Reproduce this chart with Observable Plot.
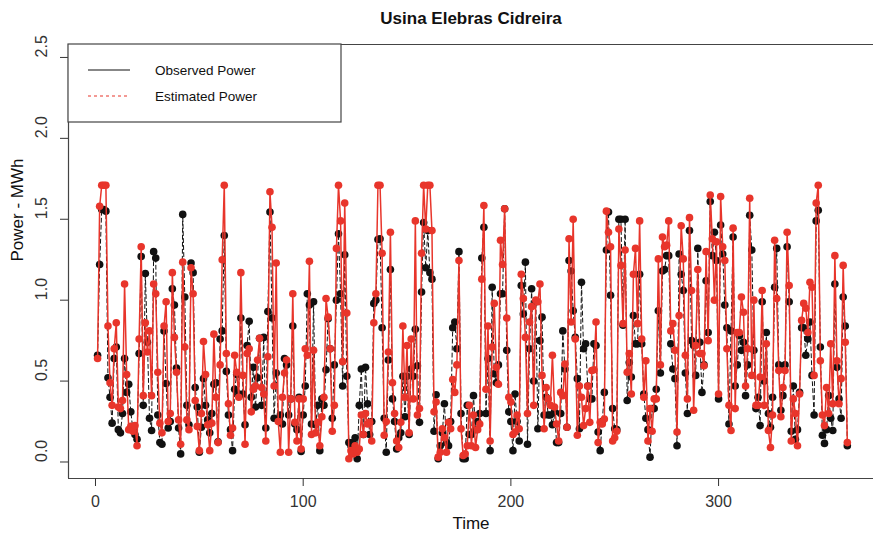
<!DOCTYPE html>
<html>
<head>
<meta charset="utf-8">
<script src="https://cdn.jsdelivr.net/npm/d3@7"></script>
<script src="https://cdn.jsdelivr.net/npm/@observablehq/plot@0.6"></script>
<style>
  html, body { margin: 0; padding: 0; background: #fff; overflow: hidden; }
</style>
</head>
<body>
<div id="chart"></div>
<script>
// Daily energy (MWh), one value per day, ten days per row
const observed = [
  0.66, 1.22, 1.56, 1.56, 1.55, 0.52, 0.40, 0.24, 0.64, 0.71,
  0.20, 0.18, 0.30, 0.64, 0.43, 0.48, 0.31, 0.20, 0.17, 0.14,
  0.67, 1.27, 0.35, 1.165, 0.74, 0.27, 0.195, 1.30, 1.26, 0.29,
  0.12, 0.11, 0.81, 0.485, 0.21, 0.25, 1.07, 0.97, 0.58, 0.21,
  0.05, 1.53, 1.02, 0.35, 0.23, 1.23, 1.17, 0.46, 0.34, 0.06,
  0.215, 0.515, 0.35, 0.26, 0.18, 0.30, 0.48, 0.49, 0.125, 0.76,
  0.81, 1.40, 0.56, 0.29, 0.20, 0.07, 0.45, 0.54, 0.42, 0.89,
  0.42, 0.23, 0.72, 0.87, 0.40, 0.585, 0.34, 0.52, 0.765, 0.35,
  0.77, 0.21, 0.93, 1.545, 0.89, 0.27, 0.55, 0.26, 0.29, 0.235,
  0.64, 0.60, 0.29, 0.39, 0.84, 0.235, 0.20, 0.40, 0.065, 0.29,
  0.47, 1.04, 0.97, 0.235, 0.99, 0.23, 0.35, 0.07, 0.39, 0.35,
  0.57, 0.885, 0.70, 0.27, 0.60, 1.00, 1.41, 1.04, 0.47, 1.28,
  0.53, 0.12, 0.10, 0.12, 0.15, 0.02, 0.35, 0.575, 0.17, 0.585,
  0.36, 0.17, 0.25, 0.98, 1.00, 1.375, 1.38, 0.83, 0.27, 0.06,
  0.63, 1.19, 0.39, 0.25, 0.08, 0.15, 0.18, 0.53, 0.28, 0.53,
  0.17, 0.575, 0.53, 0.82, 0.595, 0.245, 1.05, 1.48, 1.20, 1.43,
  1.17, 1.13, 0.19, 0.415, 0.02, 0.10, 0.18, 0.36, 0.12, 0.10,
  0.25, 0.83, 0.865, 0.70, 1.30, 0.30, 0.02, 0.02, 0.35, 0.17,
  0.17, 0.41, 0.20, 0.25, 0.30, 1.26, 1.45, 0.30, 0.64, 0.07,
  1.08, 0.545, 0.49, 0.60, 1.04, 1.04, 1.565, 0.69, 0.31, 0.25,
  0.07, 0.42, 0.25, 0.13, 1.09, 0.915, 1.235, 0.11, 0.70, 1.07,
  0.50, 0.99, 0.205, 0.75, 0.895, 0.29, 0.40, 0.29, 0.29, 0.23,
  0.31, 0.12, 0.12, 0.30, 0.81, 0.575, 0.215, 1.245, 1.18, 0.935,
  0.77, 0.515, 0.205, 1.11, 0.70, 0.73, 0.47, 0.39, 0.39, 0.73,
  0.72, 0.185, 0.07, 0.25, 0.43, 1.31, 1.545, 1.03, 0.33, 0.205,
  0.20, 1.50, 1.50, 0.845, 1.50, 0.38, 0.615, 0.525, 0.905, 0.73,
  0.73, 1.16, 0.73, 0.42, 0.27, 0.20, 0.03, 0.33, 0.33, 0.45,
  0.935, 0.55, 1.18, 1.19, 1.275, 1.275, 0.73, 0.575, 0.515, 0.10,
  1.285, 1.16, 1.06, 0.55, 0.30, 1.43, 0.75, 0.72, 0.535, 1.32,
  0.74, 0.43, 0.60, 1.12, 0.80, 1.61, 1.275, 1.42, 1.245, 0.39,
  1.465, 1.285, 0.97, 0.83, 0.235, 0.81, 1.39, 0.47, 0.60, 0.78,
  0.69, 0.74, 0.41, 0.60, 1.525, 1.31, 0.69, 0.33, 0.40, 0.225,
  0.99, 0.50, 0.80, 0.30, 0.215, 0.40, 1.08, 1.32, 0.60, 0.32,
  0.41, 0.60, 1.33, 0.99, 0.19, 0.47, 0.14, 0.20, 0.43, 0.83,
  0.83, 0.66, 0.76, 0.865, 0.535, 0.29, 1.49, 1.555, 0.71, 0.165,
  0.115, 0.20, 0.41, 0.27, 0.195, 1.10, 0.585, 0.39, 0.27, 1.02,
  0.84, 0.10
];

const estimated = [
  0.64, 1.58, 1.71, 1.71, 1.71, 0.84, 0.49, 0.35, 0.70, 0.86,
  0.34, 0.33, 0.38, 1.10, 0.54, 0.20, 0.22, 0.19, 0.225, 0.10,
  0.76, 1.33, 0.41, 0.86, 0.68, 0.81, 0.41, 1.10, 1.04, 0.555,
  0.24, 0.18, 0.84, 0.99, 0.25, 0.30, 1.17, 0.77, 0.555, 0.26,
  0.11, 1.235, 0.71, 0.26, 0.20, 1.20, 1.04, 0.38, 0.22, 0.07,
  0.30, 0.745, 0.54, 0.23, 0.07, 0.24, 0.79, 0.40, 0.12, 0.60,
  1.25, 1.71, 0.67, 0.36, 0.165, 0.21, 0.66, 0.555, 0.40, 1.17,
  0.535, 0.11, 0.67, 0.70, 0.31, 0.45, 0.47, 0.63, 0.765, 0.46,
  0.42, 0.13, 0.65, 1.67, 1.45, 0.47, 1.23, 0.25, 0.06, 0.40,
  0.55, 0.63, 0.06, 0.39, 1.04, 0.245, 0.13, 0.39, 0.08, 0.39,
  0.70, 0.66, 1.24, 0.17, 0.69, 0.18, 0.245, 0.10, 0.28, 0.40,
  1.01, 0.895, 0.70, 0.19, 0.35, 1.32, 1.71, 1.49, 0.62, 1.60,
  0.92, 0.02, 0.07, 0.05, 0.10, 0.06, 0.08, 0.29, 0.17, 0.30,
  0.235, 0.245, 0.13, 0.86, 1.04, 1.71, 1.71, 1.29, 0.165, 0.25,
  0.68, 1.42, 0.49, 0.30, 0.13, 0.09, 0.245, 0.84, 0.40, 0.72,
  0.18, 0.76, 0.39, 1.49, 0.29, 0.33, 1.29, 1.71, 1.44, 1.71,
  1.71, 1.43, 0.31, 0.37, 0.03, 0.06, 0.205, 0.15, 0.06, 0.245,
  0.205, 0.51, 0.43, 0.60, 1.245, 0.205, 0.04, 0.05, 0.10, 0.35,
  0.10, 0.29, 0.09, 0.20, 0.235, 1.13, 1.585, 0.45, 0.84, 0.13,
  0.71, 0.98, 0.585, 0.48, 1.37, 1.22, 1.565, 0.89, 0.40, 0.37,
  0.17, 0.185, 0.29, 0.205, 1.16, 1.01, 0.77, 0.30, 0.865, 0.96,
  0.35, 1.00, 0.99, 1.10, 0.535, 0.205, 0.46, 0.39, 0.35, 0.66,
  0.34, 0.235, 0.13, 0.43, 0.41, 0.605, 0.215, 1.38, 0.865, 1.50,
  0.76, 0.165, 0.47, 0.40, 0.225, 0.33, 0.47, 0.245, 0.565, 0.57,
  0.865, 0.12, 0.245, 0.235, 0.265, 1.55, 1.42, 1.33, 0.13, 0.15,
  0.19, 1.44, 1.215, 0.855, 1.31, 0.555, 0.67, 0.42, 1.16, 1.32,
  0.855, 1.49, 0.76, 0.40, 0.625, 0.13, 0.33, 0.19, 0.39, 0.39,
  1.255, 0.60, 1.39, 1.33, 1.34, 1.49, 0.81, 0.855, 0.69, 0.185,
  0.905, 1.46, 1.255, 0.66, 0.39, 1.51, 1.06, 0.32, 0.72, 1.19,
  0.67, 0.67, 0.595, 1.30, 0.75, 1.65, 1.38, 1.00, 1.36, 0.42,
  1.64, 1.33, 1.245, 0.70, 0.35, 0.195, 1.445, 0.33, 0.80, 0.80,
  1.02, 0.925, 0.47, 0.70, 1.63, 0.535, 1.00, 0.35, 0.35, 0.525,
  1.06, 0.35, 0.73, 0.195, 0.09, 0.29, 1.37, 1.01, 0.565, 0.28,
  0.46, 0.565, 1.42, 1.09, 0.13, 0.39, 0.30, 0.10, 0.42, 0.875,
  0.98, 0.95, 0.80, 1.11, 1.08, 0.535, 1.60, 1.71, 0.625, 0.29,
  0.225, 0.46, 0.30, 0.73, 0.36, 1.275, 0.625, 0.36, 0.515, 1.215,
  0.74, 0.12
];

const xTicks = [0, 100, 200, 300];
const yTicks = [0, 0.5, 1, 1.5, 2, 2.5];
const titleText = "Usina Elebras Cidreira";
const xLabel = "Time";
const yLabel = "Power - MWh";
const legendLabels = ["Observed Power", "Estimated Power"];

// Rows for the marks: day number (1-based) and value
const obsRows = observed.map((v, i) => ({day: i + 1, value: v}));
const estRows = estimated.map((v, i) => ({day: i + 1, value: v}));

const W = 873, H = 536;
const mL = 68, mT = 44, mB = 58, mR = 0;
const xDomain = [-13, 374.6];
const yDomain = [-0.102, 2.58];
const FONT = "'Liberation Sans', Arial, Helvetica, sans-serif";
const RED = "#e8352b";
const BLACK = "#111";
const AXIS = "#444";

const chart = Plot.plot({
  width: W,
  height: H,
  marginLeft: mL,
  marginTop: mT,
  marginBottom: mB,
  marginRight: mR,
  style: {fontFamily: FONT, background: "#fff", color: "#222"},
  x: {domain: xDomain, axis: null},
  y: {domain: yDomain, axis: null},
  marks: [
    // plot box (right side lies past the page edge)
    Plot.ruleY([yDomain[0], yDomain[1]], {stroke: AXIS, strokeWidth: 1.2}),
    Plot.ruleX([xDomain[0]], {stroke: AXIS, strokeWidth: 1.2}),
    // axes
    Plot.axisX(xTicks, {tickSize: 8, tickPadding: 9, fontSize: 16, label: null, color: "#333", tickFormat: d => String(d)}),
    Plot.axisY(yTicks, {tickSize: 8, tickFormat: () => "", label: null, color: "#333"}),
    Plot.text(yTicks, {y: d => d, text: d => d.toFixed(1), frameAnchor: "left", dx: -27, rotate: -90, fontSize: 16, fill: "#333"}),
    Plot.text([xLabel], {frameAnchor: "bottom", lineAnchor: "middle", dy: 45, fontSize: 17, fill: "#111"}),
    Plot.text([yLabel], {frameAnchor: "left", dx: -51, rotate: -90, fontSize: 17, fill: "#111"}),
    Plot.text([titleText], {frameAnchor: "top", lineAnchor: "middle", dy: -26, fontSize: 17, fontWeight: "bold", fill: "#111"}),
    // observed: dashed black line with points
    Plot.line(obsRows, {x: "day", y: "value", stroke: BLACK, strokeWidth: 1, strokeDasharray: "4,3"}),
    Plot.dot(obsRows, {x: "day", y: "value", r: 3.8, fill: BLACK, stroke: null}),
    // estimated: solid red line with points
    Plot.line(estRows, {x: "day", y: "value", stroke: RED, strokeWidth: 1.5}),
    Plot.dot(estRows, {x: "day", y: "value", r: 3.8, fill: RED, stroke: null})
  ]
});

// Legend box in the top-left corner of the plot region
const svg = d3.select(chart);
const lg = svg.append("g").attr("font-family", FONT).attr("text-anchor", "start");
lg.append("rect")
  .attr("x", mL).attr("y", mT)
  .attr("width", 273).attr("height", 78)
  .attr("fill", "#fff").attr("stroke", AXIS).attr("stroke-width", 1.2);
const legendStyles = [
  {stroke: BLACK, dash: null},
  {stroke: RED, dash: "3,3"}
];
legendLabels.forEach((label, i) => {
  const y = mT + 26 + i * 26;
  lg.append("line")
    .attr("x1", mL + 20).attr("x2", mL + 62)
    .attr("y1", y).attr("y2", y)
    .attr("stroke", legendStyles[i].stroke)
    .attr("stroke-width", 1.2)
    .attr("stroke-dasharray", legendStyles[i].dash);
  lg.append("text")
    .attr("x", mL + 87).attr("y", y)
    .attr("dy", "0.35em")
    .attr("text-anchor", "start")
    .attr("font-size", 13.5)
    .attr("fill", "#111")
    .text(label);
});

document.getElementById("chart").appendChild(chart);
</script>
</body>
</html>
